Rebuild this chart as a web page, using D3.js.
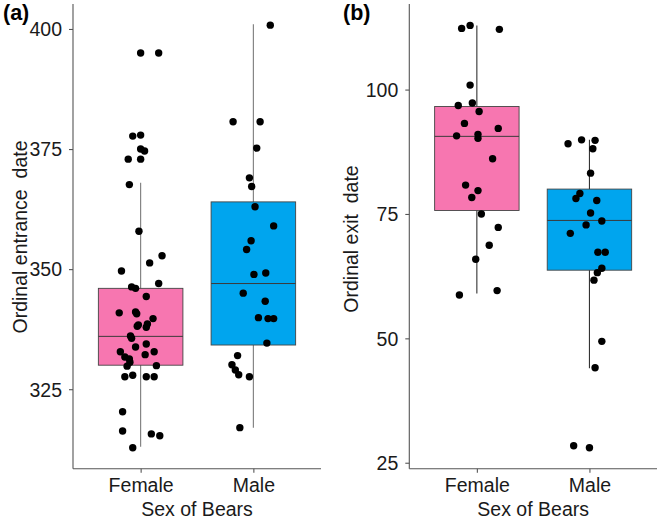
<!DOCTYPE html>
<html><head><meta charset="utf-8">
<script src="https://cdn.jsdelivr.net/npm/d3@7"></script>
<style>body{margin:0;background:#fff}svg{display:block;font-family:"Liberation Sans",Arial,sans-serif}</style>
</head><body>
<script>
const categories = ["Female", "Male"];
const fillColors = ["#F776B0", "#00A5EE"];
const xLabel = "Sex of Bears";

// Panel (a): ordinal entrance date
const aTicks = [325, 350, 375, 400];
const aBoxFemale = [313, 330, 336, 346, 368];   // low whisker, q1, median, q3, high whisker
const aBoxMale   = [317, 334.2, 347, 364, 401];
const aFemaleValues = [395,395,377.7,377.9,375,374.6,372.9,372.9,367.6,357.9,352.8,351.3,349.6,347,346.3,346,344.3,340.9,341.1,340.7,339.7,338.4,338.1,338.6,337.9,336.1,335.6,333.8,334.4,332.8,332.8,332.2,331.7,331.3,330.6,329.8,329.9,327.6,327.9,327.6,327.6,320.3,316.3,315.7,315.3,312.8];
const aFemaleJitter = [0,0.16,-0.07,0,0,0.035,-0.11,0,-0.10,-0.015,0.19,0.08,-0.17,0.16,-0.08,-0.045,0.05,-0.19,-0.045,-0.035,0.11,-0.02,-0.03,0.06,0.05,-0.09,-0.08,-0.045,0.05,-0.18,0.12,0.04,-0.14,-0.10,-0.095,-0.12,0.14,-0.14,-0.07,0.05,0.12,-0.16,-0.16,0.095,0.17,-0.07];
const aMaleValues = [400.8,380.7,380.7,375.2,369.0,367.2,363.0,359.0,355.9,354.1,348.9,349.2,345,343.3,339.9,339.7,339.7,334.6,332.0,330.1,329.0,328.0,327.6,317.0];
const aMaleJitter = [0.15,-0.18,0.06,0.03,-0.035,-0.015,0.015,0.18,-0.02,-0.06,0.005,0.11,-0.09,0.105,0.045,0.13,0.18,0.12,-0.14,-0.19,-0.16,-0.13,-0.035,-0.12];

// Panel (b): ordinal exit date
const bTicks = [25, 50, 75, 100];
const bBoxFemale = [59, 75.7, 90.6, 96.6, 112.9];
const bBoxMale   = [44, 63.7, 73.7, 80.0, 89.9];
const bFemaleValues = [112.3,112.9,112.1,100.9,97.3,96.8,95.6,93.2,92.2,90.7,91.0,90.2,86.1,80.8,79.7,78.3,75.0,72.3,68.7,65.9,58.7,59.6];
const bFemaleJitter = [-0.135,-0.06,0.2,-0.06,-0.04,-0.165,0.02,-0.11,0.19,-0.18,0.01,0.01,0.14,-0.10,0.01,-0.045,0.04,0.19,0.11,-0.01,-0.155,0.18];
const bMaleValues = [89.1,89.9,89.8,88.1,83.2,79.1,78.1,77.7,75.2,73.6,72.8,71.1,67.3,67.3,64.1,63.2,61.7,49.4,44.1,28.4,28.0];
const bMaleJitter = [-0.19,-0.07,0.05,0.03,0.01,-0.085,-0.12,0.065,0.01,0.11,-0.03,-0.17,0.075,0.14,0.11,0.07,0.04,0.11,0.05,-0.14,0];

const W = 661, H = 523;
const svg = d3.select("body").append("svg").attr("width", W).attr("height", H);

function panel(cfg) {
  const g = svg.append("g");
  const x = d3.scaleLinear().domain([0.4, 2.6]).range([cfg.left, cfg.right]);
  const y = d3.scaleLinear().domain(cfg.domain).range([cfg.bottom, cfg.top]);
  const boxes = [cfg.boxF, cfg.boxM];
  const pts = [];
  cfg.valsF.forEach((v, i) => pts.push({c: 1 + cfg.jitF[i], v}));
  cfg.valsM.forEach((v, i) => pts.push({c: 2 + cfg.jitM[i], v}));

  // whiskers
  boxes.forEach((b, i) => {
    g.append("line").attr("x1", x(i + 1)).attr("x2", x(i + 1))
      .attr("y1", y(b[0])).attr("y2", y(b[4]))
      .attr("stroke", cfg.whisker).attr("stroke-width", 1.1);
  });
  // boxes
  boxes.forEach((b, i) => {
    g.append("rect").attr("x", x(i + 1 - 0.375)).attr("width", x(1.75) - x(1))
      .attr("y", y(b[3])).attr("height", y(b[1]) - y(b[3]))
      .attr("fill", fillColors[i]).attr("stroke", "#444").attr("stroke-width", 0.9);
    g.append("line").attr("x1", x(i + 1 - 0.375)).attr("x2", x(i + 1 + 0.375))
      .attr("y1", y(b[2])).attr("y2", y(b[2]))
      .attr("stroke", "#3a3a3a").attr("stroke-width", 1);
  });
  // points
  g.selectAll("circle.pt").data(pts).join("circle").attr("class", "pt")
    .attr("cx", d => x(d.c)).attr("cy", d => y(d.v)).attr("r", 3.7).attr("fill", "#000");

  // y axis
  const ya = g.append("g").attr("transform", `translate(${cfg.left},0)`)
    .call(d3.axisLeft(y).tickValues(cfg.ticks).tickSize(4).tickPadding(7).tickSizeOuter(0));
  // x axis
  const xa = g.append("g").attr("transform", `translate(0,${cfg.bottom})`)
    .call(d3.axisBottom(x).tickValues([1, 2]).tickFormat((d) => categories[d - 1]).tickSize(4).tickPadding(5).tickSizeOuter(0));
  [ya, xa].forEach(a => {
    a.select(".domain").attr("stroke", "#555").attr("stroke-width", 1.1);
    a.selectAll(".tick line").attr("stroke", "#555").attr("stroke-width", 1.1);
    a.selectAll(".tick text").attr("fill", "#1a1a1a").style("font-size", "19.5px")
      .style("font-family", '"Liberation Sans",Arial,sans-serif');
  });
  ya.selectAll(".tick text").attr("dy", "0.35em");
  ya.select(".domain").attr("d", `M0,${cfg.top}V${cfg.bottom}`);
  xa.select(".domain").attr("d", `M${cfg.left},0H${cfg.right}`);

  // labels
  g.append("text").attr("x", (cfg.left + cfg.right) / 2).attr("y", 516)
    .attr("text-anchor", "middle").style("font-size", "19.5px").attr("fill", "#1a1a1a").text(xLabel);
  g.append("text").attr("transform", `translate(${cfg.yTitleX},${cfg.yTitleY}) rotate(-90)`)
    .attr("text-anchor", "middle").style("font-size", "19.5px").attr("fill", "#1a1a1a")
    .style("white-space", "pre").text(cfg.yTitle);
  g.append("text").attr("x", cfg.tagX).attr("y", 20).style("font-size", "21.5px")
    .style("font-weight", "bold").attr("fill", "#000").text(cfg.tag);
}

panel({left: 73, right: 321, top: 4, bottom: 468.7, domain: [308.45, 405.2], ticks: aTicks,
  boxF: aBoxFemale, boxM: aBoxMale, valsF: aFemaleValues, jitF: aFemaleJitter, valsM: aMaleValues, jitM: aMaleJitter,
  whisker: "#7a7a7a", yTitle: "Ordinal entrance  date", yTitleX: 27, yTitleY: 237, tag: "(a)", tagX: 3});
panel({left: 409.3, right: 657, top: 4, bottom: 468.7, domain: [23.8, 117.2], ticks: bTicks,
  boxF: bBoxFemale, boxM: bBoxMale, valsF: bFemaleValues, jitF: bFemaleJitter, valsM: bMaleValues, jitM: bMaleJitter,
  whisker: "#333", yTitle: "Ordinal exit  date", yTitleX: 358, yTitleY: 239, tag: "(b)", tagX: 343});
</script>
</body></html>
